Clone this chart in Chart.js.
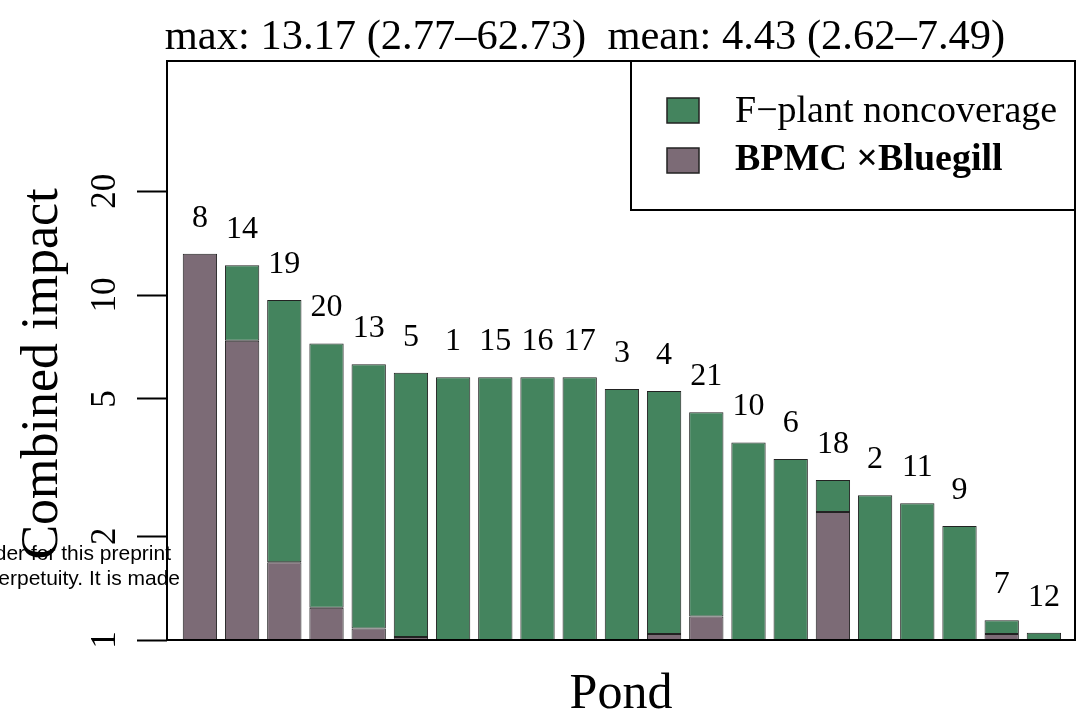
<!DOCTYPE html>
<html>
<head>
<meta charset="utf-8">
<script src="https://cdn.jsdelivr.net/npm/chart.js@4.4.0/dist/chart.umd.min.js"></script>
<style>
  html, body { margin: 0; padding: 0; background: #fff; }
</style>
</head>
<body>
<canvas id="pond_impact" width="1076" height="718"></canvas>
<script>
// ponds in plotted order, sorted by combined impact
const ponds = ['8', '14', '19', '20', '13', '5', '1', '15', '16', '17', '3', '4', '21', '10', '6', '18', '2', '11', '9', '7', '12'];
// total bar height (combined impact)
const combinedImpact = [13.17, 12.2, 9.67, 7.24, 6.30, 5.95, 5.78, 5.78, 5.78, 5.78, 5.34, 5.27, 4.57, 3.74, 3.35, 2.91, 2.63, 2.49, 2.14, 1.14, 1.05];
// height of the lower (BPMC x Bluegill) part
const bluegillPart = [13.17, 7.37, 1.68, 1.24, 1.08, 1.02, 1, 1, 1, 1, 1, 1.04, 1.17, 1, 1, 2.35, 1, 1, 1, 1.04, 1];
const yTicks = [1, 2, 5, 10, 20];
const seriesNames = ['F\u2212plant noncoverage', 'BPMC \u00d7Bluegill'];
const titleText = 'max: 13.17 (2.77\u201362.73)  mean: 4.43 (2.62\u20137.49)';

const green = 'rgb(68, 132, 94)';
const mauve = 'rgb(124, 107, 118)';
const edge = '#222';
const serif = '"Liberation Serif", "Times New Roman", serif';

const positions = ponds.map((p, i) => i + 1);

// everything R drew around the bars
const decorations = {
  id: 'decorations',
  afterDraw(chart) {
    const ctx = chart.ctx;
    const area = chart.chartArea;
    const x = chart.scales.x;
    const y = chart.scales.y;
    ctx.save();
    ctx.fillStyle = '#000';
    ctx.strokeStyle = '#000';

    // plot frame
    ctx.lineWidth = 2;
    ctx.strokeRect(area.left, area.top, area.right - area.left, area.bottom - area.top);

    // title
    ctx.font = '42.5px ' + serif;
    ctx.textAlign = 'center';
    ctx.textBaseline = 'alphabetic';
    ctx.fillText(titleText, 585, 49);

    // y tick labels, turned like R's las=0
    ctx.font = '35px ' + serif;
    yTicks.forEach(v => {
      ctx.save();
      ctx.translate(115, y.getPixelForValue(v));
      ctx.rotate(-Math.PI / 2);
      ctx.fillText(String(v), 0, 0);
      ctx.restore();
    });

    // axis titles
    ctx.font = '52px ' + serif;
    ctx.save();
    ctx.translate(57, 374);
    ctx.rotate(-Math.PI / 2);
    ctx.fillText('Combined impact', 0, 0);
    ctx.restore();
    ctx.font = '50px ' + serif;
    ctx.fillText('Pond', (area.left + area.right) / 2, 708);

    // pond numbers above the bars
    ctx.font = '32px ' + serif;
    ponds.forEach((p, i) => {
      ctx.fillText(p, x.getPixelForValue(positions[i]), y.getPixelForValue(combinedImpact[i]) - 27);
    });

    // legend box in the top right corner
    const lx = area.right - 444;
    ctx.lineWidth = 2;
    ctx.strokeRect(lx, area.top, area.right - lx, 149);
    const swatches = [green, mauve];
    ctx.textAlign = 'left';
    ctx.lineWidth = 1.5;
    swatches.forEach((c, k) => {
      const sy = area.top + 37 + k * 50;
      ctx.fillStyle = c;
      ctx.fillRect(lx + 36, sy, 32, 25);
      ctx.strokeStyle = edge;
      ctx.strokeRect(lx + 36, sy, 32, 25);
      ctx.fillStyle = '#000';
      ctx.font = (k === 1 ? 'bold ' : '') + '38px ' + serif;
      ctx.fillText(seriesNames[k], lx + 104, area.top + 61 + k * 48);
    });

    // stray text from the page the figure was cut from
    ctx.font = '21px "Liberation Sans", Arial, sans-serif';
    ctx.textAlign = 'right';
    ctx.fillText('der for this preprint', 171, 560);
    ctx.fillText('erpetuity. It is made', 180, 585);

    ctx.restore();
  }
};

new Chart(
  document.getElementById('pond_impact'),
  {
    type: 'bar',
    data: {
      datasets: [
        {
          label: seriesNames[1],
          data: positions.map((p, i) => ({ x: p, y: [1, bluegillPart[i]] })),
          backgroundColor: mauve,
          borderColor: edge,
          borderWidth: 1,
          borderSkipped: false,
          grouped: false,
          barPercentage: 0.813,
          categoryPercentage: 1
        },
        {
          label: seriesNames[0],
          data: positions.map((p, i) => ({ x: p, y: [bluegillPart[i], combinedImpact[i]] })),
          backgroundColor: green,
          borderColor: edge,
          borderWidth: 1,
          borderSkipped: false,
          grouped: false,
          barPercentage: 0.813,
          categoryPercentage: 1
        }
      ]
    },
    options: {
      responsive: false,
      animation: false,
      layout: {
        padding: { top: 61, right: 1, bottom: 78, left: 0 }
      },
      plugins: {
        legend: { display: false },
        tooltip: { enabled: false }
      },
      scales: {
        x: {
          type: 'linear',
          display: false,
          offset: false,
          min: 0.22,
          max: 21.737,
          afterBuildTicks: function(scale) {
            scale.ticks = positions.map(v => ({ value: v }));
          }
        },
        y: {
          type: 'logarithmic',
          position: 'left',
          min: 1,
          max: 47.7,
          border: { display: false },
          grid: {
            drawOnChartArea: false,
            drawTicks: true,
            tickLength: 30,
            tickColor: '#000',
            tickWidth: 2
          },
          ticks: { display: false },
          afterBuildTicks: function(scale) {
            scale.ticks = yTicks.map(v => ({ value: v }));
          },
          afterFit: function(scale) {
            scale.width = 167;
          }
        }
      }
    },
    plugins: [decorations]
  }
);
</script>
</body>
</html>
